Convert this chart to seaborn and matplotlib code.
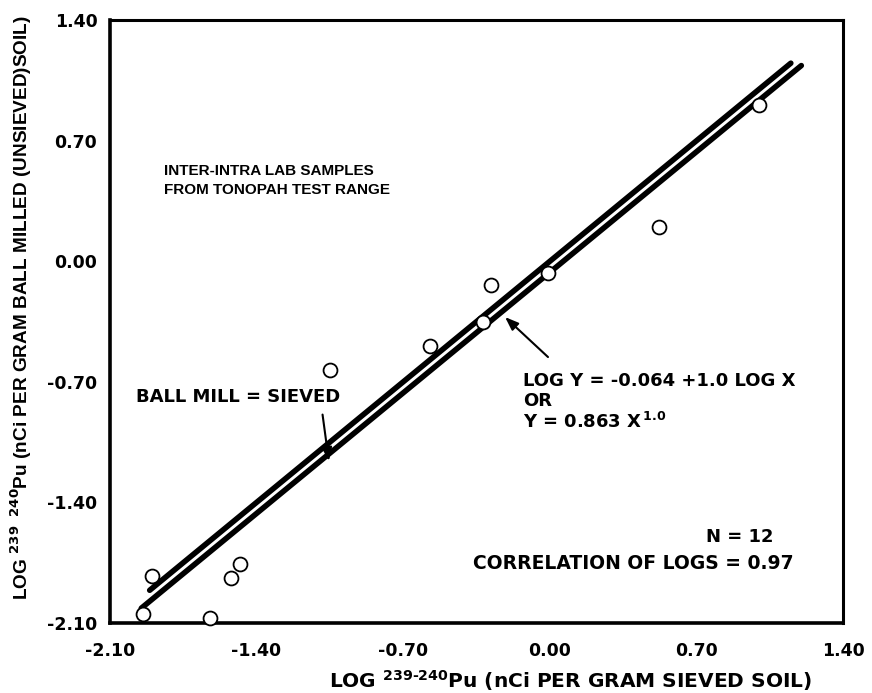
import numpy as np
import pandas as pd
import matplotlib
matplotlib.use("Agg")
import matplotlib.pyplot as plt
import seaborn as sns

# Log Pu-239/240 concentrations: sieved soil (x) vs ball-milled unsieved soil (y)
log_sieved = [-1.94, -1.90, -1.62, -1.52, -1.48, -1.05, -0.57, -0.32, -0.28, -0.01, 0.52, 1.00]
log_ballmill = [-2.05, -1.83, -2.07, -1.84, -1.76, -0.63, -0.49, -0.35, -0.14, -0.07, 0.20, 0.91]

# Regression and 1:1 reference line
fit_intercept = -0.064
fit_slope = 1.0
fit_x_range = [-1.95, 1.20]
identity_x_range = [-1.91, 1.15]

ticks = [-2.10, -1.40, -0.70, 0.00, 0.70, 1.40]
tick_labels = ["-2.10", "-1.40", "-0.70", "0.00", "0.70", "1.40"]

sns.set_style("white")
plt.rcParams["font.family"] = ["DejaVu Sans"]
plt.rcParams["font.weight"] = "bold"
plt.rcParams["text.color"] = "black"
plt.rcParams["axes.labelcolor"] = "black"
plt.rcParams["xtick.color"] = "black"
plt.rcParams["ytick.color"] = "black"
plt.rcParams["mathtext.fontset"] = "custom"
plt.rcParams["mathtext.rm"] = "DejaVu Sans:bold"
plt.rcParams["mathtext.it"] = "DejaVu Sans:bold"
plt.rcParams["mathtext.bf"] = "DejaVu Sans:bold"
plt.rcParams["mathtext.default"] = "rm"

WIDE = ["DejaVu Sans"]
NARROW = ["Liberation Sans", "DejaVu Sans"]

fig = plt.figure(figsize=(8.72, 6.93), dpi=100)
ax = fig.add_axes([0.126, 0.101, 0.841, 0.870])

pts = pd.DataFrame({"x": log_sieved, "y": log_ballmill})
fit_df = pd.DataFrame({"x": fit_x_range,
                       "y": [fit_intercept + fit_slope * v for v in fit_x_range]})
ident_df = pd.DataFrame({"x": identity_x_range, "y": identity_x_range})

sns.lineplot(data=ident_df, x="x", y="y", ax=ax, color="black", lw=4.0,
             solid_capstyle="round", zorder=2)
sns.lineplot(data=fit_df, x="x", y="y", ax=ax, color="black", lw=4.0,
             solid_capstyle="round", zorder=2)
sns.scatterplot(data=pts, x="x", y="y", ax=ax, s=100, facecolor="white",
                edgecolor="black", linewidth=1.3, zorder=3, clip_on=False)

ax.set_xlim(-2.10, 1.40)
ax.set_ylim(-2.10, 1.40)
ax.set_xticks(ticks)
ax.set_yticks(ticks)
ax.set_xticklabels(tick_labels, fontsize=12.5, fontweight="bold", family=WIDE)
ax.set_yticklabels(tick_labels, fontsize=12.5, fontweight="bold", family=WIDE)
ax.tick_params(axis="both", direction="in", length=8, width=1.2, color="black")
ax.tick_params(axis="x", pad=14)
ax.tick_params(axis="y", pad=9)
ax.set_xlabel("")
ax.set_ylabel("")

for side in ["left", "bottom"]:
    ax.spines[side].set_linewidth(2.6)
for side in ["top", "right"]:
    ax.spines[side].set_linewidth(2.2)
for sp in ax.spines.values():
    sp.set_color("black")

# Axis titles placed as figure text
fig.text(570 / 872, 1 - 681 / 693,
         r"LOG $^{239\text{-}240}$Pu (nCi PER GRAM SIEVED SOIL)",
         ha="center", va="center", fontsize=14.5, fontweight="bold", family=WIDE)
fig.text(21 / 872, 1 - 308 / 693,
         r"LOG $^{239\ \ 240}$Pu (nCi PER GRAM BALL MILLED (UNSIEVED)SOIL)",
         ha="center", va="center", rotation=90, fontsize=13.7,
         fontweight="bold", family=NARROW)

txt = dict(fontsize=13, fontweight="bold", color="black", family=WIDE)
ax.text(-1.842, 0.47, "INTER-INTRA LAB SAMPLES\nFROM TONOPAH TEST RANGE",
        ha="left", va="center", linespacing=1.5, fontsize=11,
        fontweight="bold", color="black", family=NARROW)
ax.text(-1.489, -0.79, "BALL MILL = SIEVED", ha="center", va="center", **txt)
ax.text(-0.13, -0.695, "LOG Y = -0.064 +1.0 LOG X", ha="left", va="center", **txt)
ax.text(-0.13, -0.81, "OR", ha="left", va="center", **txt)
ax.text(-0.13, -0.93, r"Y = 0.863 X$^{\,1.0}$", ha="left", va="center", **txt)
ax.text(1.066, -1.60, "N = 12", ha="right", va="center", **txt)
ax.text(1.161, -1.752, "CORRELATION OF LOGS = 0.97", ha="right", va="center",
        fontsize=13.5, fontweight="bold", color="black", family=WIDE)

arrow = dict(arrowstyle="-|>,head_length=0.8,head_width=0.3", color="black", lw=1.5,
             shrinkA=0, shrinkB=0)
ax.annotate("", xy=(-1.055, -1.16), xytext=(-1.085, -0.89), arrowprops=arrow)
ax.annotate("", xy=(-0.214, -0.324), xytext=(-0.009, -0.556), arrowprops=arrow)

fig.savefig("out.png", dpi=100)
